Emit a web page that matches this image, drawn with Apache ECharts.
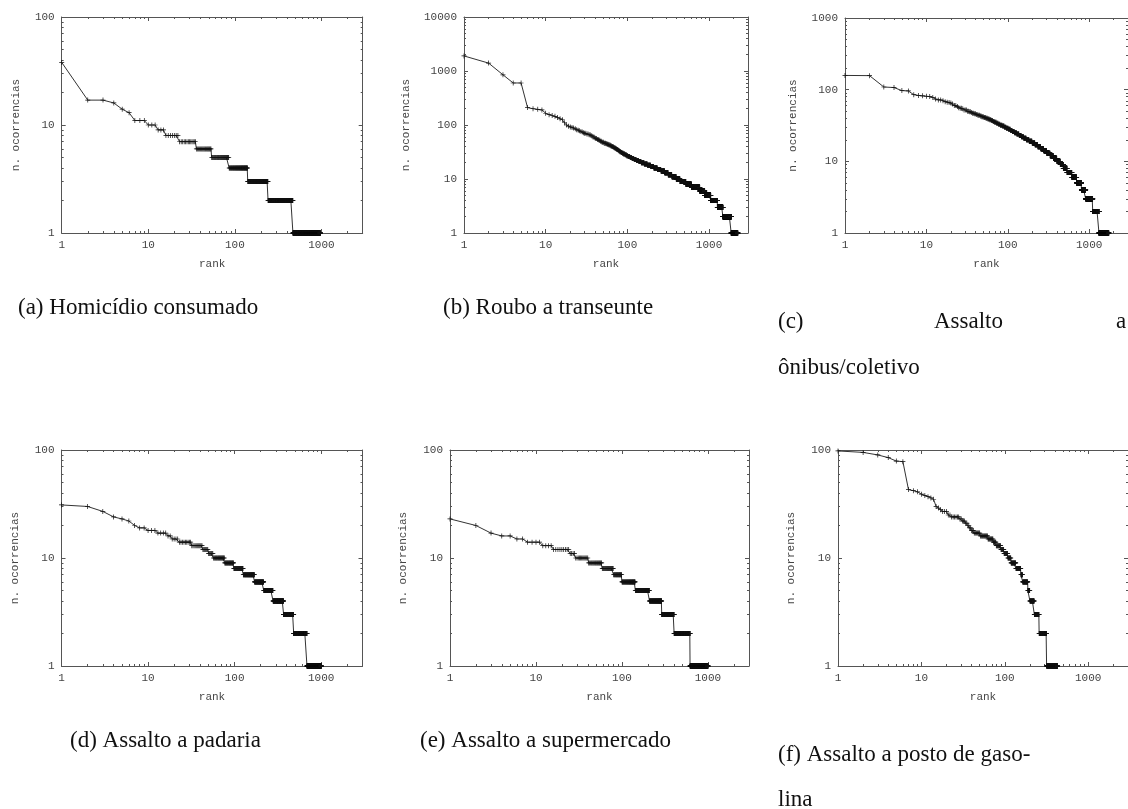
<!DOCTYPE html>
<html>
<head>
<meta charset="utf-8">
<title>rank x ocorrencias</title>
<script src="https://cdn.jsdelivr.net/npm/echarts@6/dist/echarts.min.js"></script>
<style>
    html, body { margin: 0; padding: 0; background: #fff; }
    #chart { width: 1128px; height: 809px; }
</style>
</head>
<body>
<div id="chart"></div>
<script>
// 每个图: 计数值(n. ocorrencias) 和 该计数值对应的最后一个 rank
var aCounts = [38, 17, 16, 14, 13, 11, 10, 9, 8, 7, 6, 5, 4, 3, 2, 1];
var aLastRank = [1, 3, 4, 5, 6, 9, 12, 15, 22, 35, 53, 85, 140, 241, 468, 970];

var bCounts = [1900, 1400, 850, 600, 210, 200, 195, 190, 165, 155, 150, 145, 138, 130, 125, 110, 100,
    95, 92, 90, 88, 85, 82, 80, 78, 76, 74, 72, 70, 68, 66, 64, 62, 60, 58, 56, 54, 52, 50, 48, 46,
    45, 44, 43, 42, 41, 40, 39, 38, 37, 36, 35, 34, 33, 32, 31, 30, 29, 28, 27, 26, 25, 24, 23, 22, 21,
    20, 19, 18, 17, 16, 15, 14, 13, 12, 11, 10, 9, 8, 7, 6, 5, 4, 3, 2, 1];
var bLastRank = [1, 2, 3, 5, 6, 7, 8, 9, 10, 11, 12, 13, 14, 15, 16, 17, 18,
    19, 20, 21, 22, 23, 24, 25, 26, 27, 28, 29, 31, 33, 35, 36, 37, 39, 40, 42, 44, 46, 48, 51, 54,
    56, 58, 60, 62, 64, 66, 68, 70, 72, 74, 76, 78, 80, 83, 86, 89, 93, 97, 101, 107, 113, 120, 128, 137, 147,
    160, 175, 192, 210, 232, 257, 285, 315, 350, 395, 440, 520, 608, 770, 886, 1050, 1264, 1478, 1866, 2250];

var cCounts = [158, 157, 109, 107, 97, 96, 85, 83, 82, 81, 80, 78, 74, 72, 70, 68, 67, 66, 65, 63,
    60, 58, 56, 55, 54, 52, 50, 49, 48, 47, 46, 45, 44, 43, 42, 41, 40, 39, 38, 37, 36, 35, 34, 33, 32, 31,
    30, 29, 28, 27, 26, 25, 24, 23, 22, 21, 20, 19, 18, 17, 16, 15, 14, 13, 12, 11, 10, 9, 8, 7, 6, 5, 4, 3, 2, 1];
var cLastRank = [1, 2, 3, 4, 5, 6, 7, 8, 9, 10, 11, 12, 13, 15, 16, 17, 18, 19, 20, 21,
    23, 24, 25, 27, 28, 31, 33, 35, 36, 38, 40, 42, 45, 47, 50, 53, 56, 59, 62, 65, 68, 72, 76, 80, 85, 90,
    95, 101, 107, 113, 120, 128, 137, 146, 156, 168, 182, 198, 215, 233, 253, 275, 300, 330, 362, 400, 440, 480,
    534, 612, 701, 803, 905, 1105, 1319, 1743];

var dCounts = [31, 30, 27, 24, 23, 22, 20, 19, 18, 17, 16, 15, 14, 13, 12, 11, 10, 9, 8, 7, 6, 5, 4, 3, 2, 1];
var dLastRank = [1, 2, 3, 4, 5, 6, 7, 9, 12, 16, 18, 22, 31, 42, 49, 56, 76, 97, 125, 169, 216, 277, 367, 480, 684, 1000];

var eCounts = [23, 20, 17, 16, 15, 14, 13, 12, 11, 10, 9, 8, 7, 6, 5, 4, 3, 2, 1];
var eLastRank = [1, 2, 3, 5, 7, 11, 15, 24, 28, 40, 58, 79, 99, 142, 208, 289, 403, 618, 1000];

var fCounts = [98, 95, 90, 85, 79, 78, 43, 42, 41, 39, 38, 37, 36, 35, 30, 29, 28,
    27, 25, 24, 23, 22, 21, 20, 19, 18, 17, 16, 15, 14, 13, 12, 11, 10, 9, 8, 7, 6, 5, 4, 3, 2, 1];
var fLastRank = [1, 2, 3, 4, 5, 6, 7, 8, 9, 10, 11, 12, 13, 14, 15, 16, 17,
    20, 22, 28, 30, 33, 35, 37, 39, 42, 50, 62, 72, 78, 89, 97, 108, 118, 135, 155, 163, 188, 199, 225, 257, 316, 430];

// 坐标轴范围
var xRange = [1, 3000];
var yMaxes = [100, 10000, 1000, 100, 100, 100];

// 图注
var captionLines = [
    '(a) Homicídio consumado',
    '(b) Roubo a transeunte',
    '(c)', 'Assalto', 'a', 'ônibus/coletivo',
    '(d) Assalto a padaria',
    '(e) Assalto a supermercado',
    '(f) Assalto a posto de gaso-', 'lina'
];

var monoFont = '"Liberation Mono", "DejaVu Sans Mono", monospace';
var serifFont = '"Liberation Serif", "DejaVu Serif", serif';
var textColor = '#444';
var frameColor = '#555';

// 把 (计数值, 最后rank) 展开成每个 rank 一个点
function expandRuns(counts, lastRank) {
    var data = [];
    var rank = 1;
    for (var i = 0; i < counts.length; i++) {
        for (; rank <= lastRank[i]; rank++) {
            data.push([rank, counts[i]]);
        }
    }
    return data;
}

function logAxis(gridIndex, min, max, main, position, name, nameGap) {
    return {
        type: 'log',
        logBase: 10,
        gridIndex: gridIndex,
        position: position,
        min: min,
        max: max,
        name: main ? name : '',
        nameLocation: 'middle',
        nameGap: nameGap,
        nameTextStyle: {fontFamily: monoFont, fontSize: 11, color: textColor},
        axisLine: {show: true, onZero: false, lineStyle: {color: frameColor, width: 1}},
        axisTick: {show: true, inside: true, length: 4, lineStyle: {color: frameColor, width: 1}},
        minorTick: {show: true, splitNumber: 9, length: 2, lineStyle: {color: frameColor, width: 1}},
        splitLine: {show: false},
        minorSplitLine: {show: false},
        axisLabel: {
            show: main,
            margin: 7,
            showMaxLabel: max === 3000 ? false : true,
            fontFamily: monoFont,
            fontSize: 11,
            color: textColor,
            formatter: function (v) {
                return String(Math.round(v));
            }
        }
    };
}

var panels = [
    {counts: aCounts, last: aLastRank, box: [61.7, 17, 301, 216], yGap: 40},
    {counts: bCounts, last: bLastRank, box: [464, 17, 284, 216], yGap: 52},
    {counts: cCounts, last: cLastRank, box: [845, 18, 293, 215], yGap: 46},
    {counts: dCounts, last: dLastRank, box: [61.5, 450, 301, 216], yGap: 41},
    {counts: eCounts, last: eLastRank, box: [450, 450, 299, 216], yGap: 41},
    {counts: fCounts, last: fLastRank, box: [838, 450, 299, 216], yGap: 41}
];

var grids = [], xAxes = [], yAxes = [], series = [];
panels.forEach(function (p, i) {
    grids.push({left: p.box[0], top: p.box[1], width: p.box[2], height: p.box[3], containLabel: false});
    xAxes.push(logAxis(i, xRange[0], xRange[1], true, 'bottom', 'rank', 26));
    xAxes.push(logAxis(i, xRange[0], xRange[1], false, 'top', '', 0));
    yAxes.push(logAxis(i, 1, yMaxes[i], true, 'left', 'n. ocorrencias', p.yGap));
    yAxes.push(logAxis(i, 1, yMaxes[i], false, 'right', '', 0));
    series.push({
        type: 'line',
        xAxisIndex: 2 * i,
        yAxisIndex: 2 * i,
        data: expandRuns(p.counts, p.last),
        symbol: 'path://M-0.14,-1H0.14V-0.14H1V0.14H0.14V1H-0.14V0.14H-1V-0.14H-0.14Z',
        symbolSize: 5,
        showSymbol: true,
        itemStyle: {color: '#111'},
        lineStyle: {color: '#333', width: 1},
        silent: true
    });
});

// 图注位置
var captionPos = [
    [18, 308], [443, 308],
    [778, 322], [934, 322], [1116, 322], [778, 368],
    [70, 741], [420, 741],
    [778, 755], [778, 800]
];

var graphics = captionLines.map(function (t, i) {
    return {
        type: 'text',
        x: captionPos[i][0],
        y: captionPos[i][1],
        style: {
            text: t,
            fontFamily: serifFont,
            fontSize: 23,
            fill: '#111',
            verticalAlign: 'middle'
        }
    };
});

var myChart = echarts.init(document.getElementById('chart'), null, {renderer: 'canvas'});
myChart.setOption({
    animation: false,
    backgroundColor: '#fff',
    grid: grids,
    xAxis: xAxes,
    yAxis: yAxes,
    series: series,
    graphic: graphics
});
</script>
</body>
</html>
